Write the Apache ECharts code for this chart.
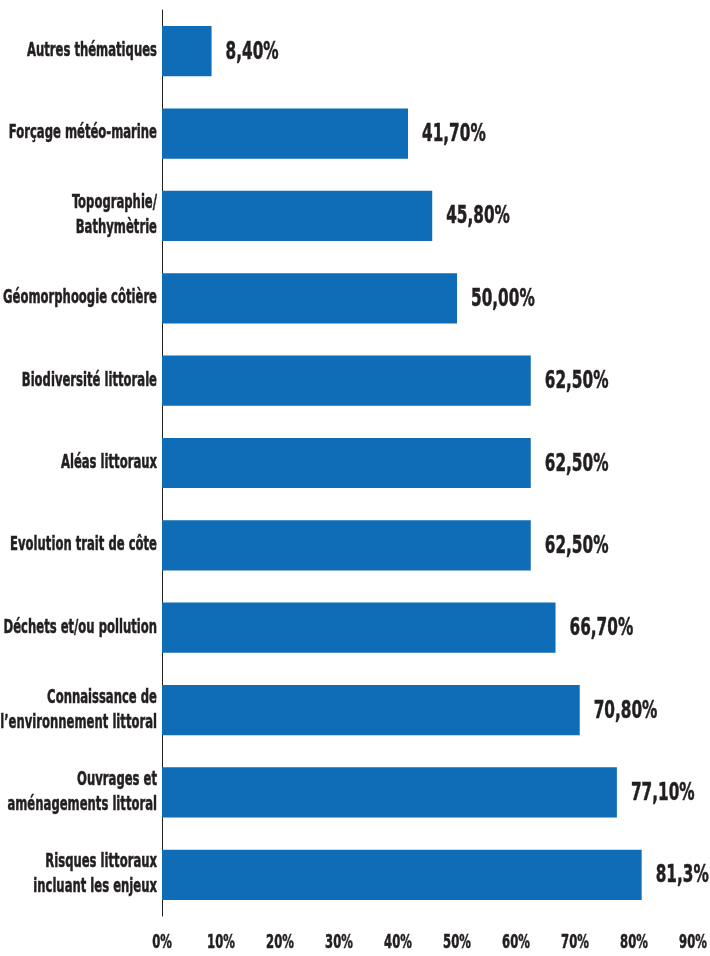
<!DOCTYPE html>
<html>
<head>
<meta charset="utf-8">
<script src="https://cdn.jsdelivr.net/npm/echarts@6/dist/echarts.min.js"></script>
<style>
  html, body { margin: 0; padding: 0; background: #ffffff; }
  #chart { width: 710px; height: 956px; }
</style>
</head>
<body>
<div id="chart"></div>
<script>
// Thématiques, de haut en bas
const categories = [
  'Autres thématiques',
  'Forçage météo-marine',
  'Topographie/\nBathymètrie',
  'Géomorphoogie côtière',
  'Biodiversité littorale',
  'Aléas littoraux',
  'Evolution trait de côte',
  'Déchets et/ou pollution',
  'Connaissance de\nl’environnement littoral',
  'Ouvrages et\naménagements littoral',
  'Risques littoraux\nincluant les enjeux'
];
// Part des répondants (%)
const values = [8.4, 41.7, 45.8, 50.0, 62.5, 62.5, 62.5, 66.7, 70.8, 77.1, 81.3];
// Libellés affichés au bout des barres
const valueLabels = ['8,40%', '41,70%', '45,80%', '50,00%', '62,50%', '62,50%', '62,50%', '66,70%', '70,80%', '77,10%', '81,3%'];
// Graduations de l'axe horizontal
const tickValues = [0, 10, 20, 30, 40, 50, 60, 70, 80, 90];

// Texte gras étroit : police condensée resserrée horizontalement
const FONT = '"DejaVu Sans Condensed", "DejaVu Sans", sans-serif';
const TEXT = '#231f20';
const SQUEEZE = 0.68;

const chart = echarts.init(document.getElementById('chart'), null, { renderer: 'canvas' });
chart.setOption({
  animation: false,
  backgroundColor: '#ffffff',
  grid: { left: 162, right: 17, top: 10, bottom: 40, containLabel: false, outerBoundsMode: 'none' },
  xAxis: {
    type: 'value',
    min: tickValues[0],
    max: tickValues[tickValues.length - 1],
    interval: 10,
    axisLine: { show: false },
    axisTick: { show: false },
    splitLine: { show: false },
    axisLabel: { show: false }
  },
  yAxis: {
    type: 'category',
    inverse: true,
    data: categories,
    axisLine: { show: true, lineStyle: { color: '#231f20', width: 1 } },
    axisTick: { show: false },
    axisLabel: { show: false }
  },
  series: [{
    type: 'bar',
    data: values,
    barCategoryGap: '39%',
    itemStyle: { color: '#0f6cb6' },
    label: { show: false }
  }]
});

// Libellés en texte condensé, placés d'après les échelles du graphique
function squeezedText(x, y, text, size, align, lineHeight) {
  return {
    type: 'text',
    x: x,
    y: y,
    scaleX: SQUEEZE,
    silent: true,
    style: {
      text: text,
      fill: TEXT,
      stroke: TEXT,
      lineWidth: 0.5,
      fontFamily: FONT,
      fontWeight: 'bold',
      fontSize: size,
      lineHeight: lineHeight || size,
      align: align,
      verticalAlign: 'middle'
    }
  };
}

const labels = [];
categories.forEach((name, i) => {
  const p = chart.convertToPixel({ gridIndex: 0 }, [0, i]);
  labels.push(squeezedText(p[0] - 5, p[1], name, 19, 'right', 25));
});
values.forEach((v, i) => {
  const p = chart.convertToPixel({ gridIndex: 0 }, [v, i]);
  labels.push(squeezedText(p[0] + 14, p[1] + 1, valueLabels[i], 25, 'left'));
});
tickValues.forEach(t => {
  const p = chart.convertToPixel({ gridIndex: 0 }, [t, 0]);
  labels.push(squeezedText(p[0], 943, t + '%', 19, 'center'));
});
chart.setOption({ graphic: { elements: labels } });
</script>
</body>
</html>
